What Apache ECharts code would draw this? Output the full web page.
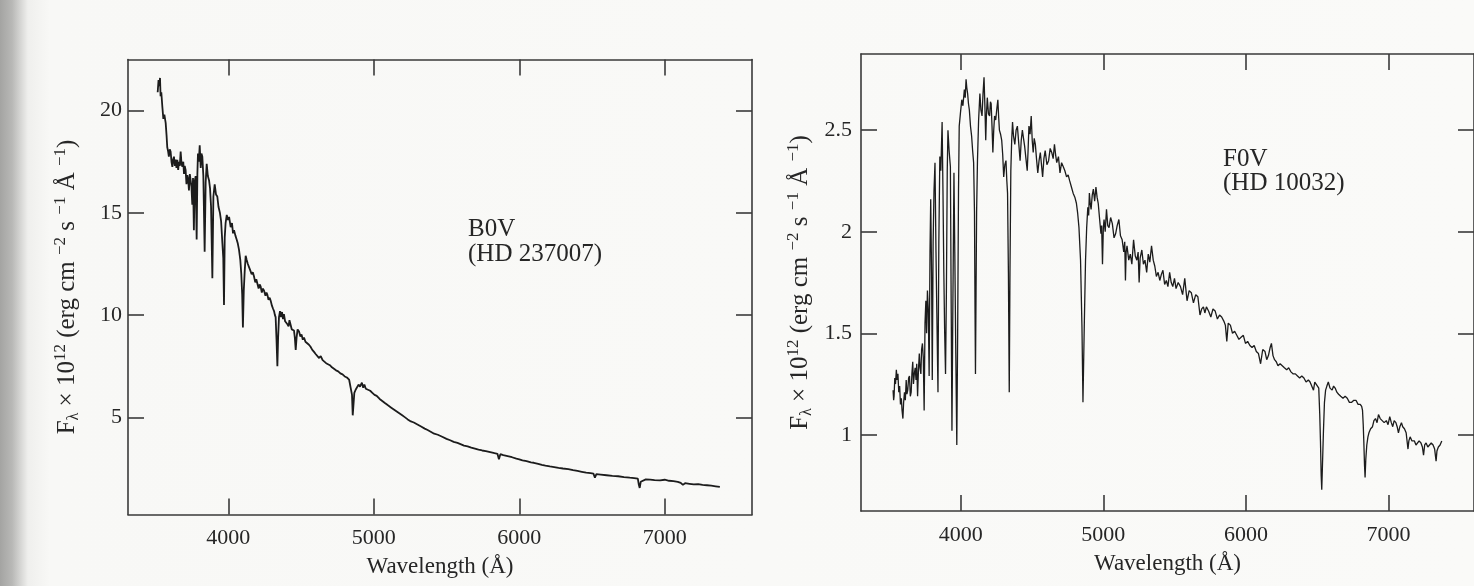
<!DOCTYPE html>
<html>
<head>
<meta charset="utf-8">
<script src="https://cdn.jsdelivr.net/npm/echarts@6/dist/echarts.min.js"></script>
<style>
html,body{margin:0;padding:0;}
body{width:1474px;height:586px;overflow:hidden;
background:linear-gradient(to right,#a4a4a2 0px,#b8b8b6 12px,#d4d4d2 20px,#efefed 28px,#f8f8f6 50px,#fafaf8 100%);}
#chart{width:1474px;height:586px;}
</style>
</head>
<body>
<div id="chart"></div>
<script>
// ---------- data ----------
const xTicks = [4000, 5000, 6000, 7000];
const b0vTicks = [5, 10, 15, 20];
const f0vTicks = [1, 1.5, 2, 2.5];

const b0vWave = [3514,3520,3526,3530,3534,3539,3546,3553,3560,3569,3575,3580,3586,3591,3597,3603,3609,3615,3620,3626,3632,3638,3643,3649,3655,3660,3666,3672,3678,3684,3690,3695,3700,3706,3712,3718,3724,3729,3735,3741,3746,3752,3757,3763,3768,3775,3782,3787,3791,3797,3803,3810,3815,3821,3828,3837,3844,3851,3859,3867,3874,3881,3890,3897,3906,3915,3924,3932,3942,3950,3959,3965,3970,3975,3981,3989,3997,4005,4016,4025,4032,4039,4048,4057,4065,4073,4082,4089,4095,4100,4106,4112,4119,4126,4134,4142,4150,4160,4168,4176,4185,4192,4199,4208,4215,4222,4230,4238,4245,4255,4262,4268,4276,4284,4291,4300,4308,4314,4320,4325,4331,4337,4342,4348,4355,4362,4369,4376,4382,4390,4398,4406,4414,4420,4428,4436,4443,4451,4457,4463,4469,4476,4486,4495,4503,4512,4520,4530,4540,4554,4565,4577,4589,4600,4612,4624,4635,4648,4660,4672,4685,4698,4712,4725,4740,4755,4770,4785,4800,4815,4830,4843,4850,4855,4860,4866,4875,4886,4895,4905,4918,4927,4935,4945,4960,4975,4990,5005,5020,5040,5058,5076,5095,5115,5135,5155,5175,5195,5215,5233,5255,5275,5300,5325,5350,5370,5391,5415,5440,5470,5500,5525,5549,5575,5600,5620,5645,5670,5695,5720,5745,5770,5800,5830,5850,5860,5870,5890,5920,5950,5980,6000,6022,6050,6080,6100,6130,6155,6180,6210,6240,6270,6300,6337,6370,6400,6430,6460,6490,6510,6520,6530,6560,6600,6640,6680,6720,6760,6790,6815,6822,6828,6835,6845,6870,6900,6930,6968,7000,7030,7060,7090,7110,7125,7140,7170,7200,7230,7260,7290,7320,7350,7379];
const b0vFlux = [20.9,21.5,21.2,21.6,20.7,20.9,20.2,19.6,19.8,19.4,18.8,18.2,18.0,17.75,18.1,18.0,17.5,17.25,17.6,17.75,17.3,17.6,17.2,17.6,17.1,17.5,17.3,18.0,17.4,17.25,17.5,16.9,17.3,17.1,16.4,16.85,16.6,16.1,16.9,16.9,16.3,15.4,16.7,14.15,16.5,16.8,13.7,16.9,17.9,17.5,18.3,17.2,17.9,17.75,16.8,13.1,16.5,17.4,16.8,16.6,16.2,15.3,11.8,15.8,16.4,15.9,15.8,15.3,15.0,14.6,13.5,12.8,10.5,13.8,14.5,14.9,14.65,14.8,14.3,14.5,14.0,14.15,13.9,13.7,13.5,13.2,12.7,12.0,11.0,9.4,11.2,12.1,12.9,12.7,12.5,12.35,12.2,12.0,12.1,11.9,11.6,11.75,11.7,11.3,11.5,11.4,11.1,11.3,11.2,10.95,11.1,11.0,10.75,10.85,10.7,10.45,10.3,10.2,10.0,9.9,8.8,7.5,8.9,9.9,10.2,9.9,10.15,9.8,10.05,9.7,9.65,9.55,9.45,9.75,9.7,9.3,9.35,9.25,8.9,8.3,8.9,9.3,9.2,8.95,9.05,8.8,8.9,8.7,8.75,8.55,8.45,8.3,8.2,8.1,8.05,7.9,8.0,7.8,7.85,7.65,7.6,7.55,7.45,7.4,7.3,7.25,7.15,7.1,7.0,6.95,6.85,6.8,6.1,5.1,5.6,6.2,6.35,6.4,6.6,6.5,6.7,6.45,6.6,6.4,6.35,6.3,6.2,6.1,6.05,5.9,5.8,5.7,5.6,5.5,5.4,5.3,5.2,5.1,5.0,4.9,4.8,4.75,4.65,4.55,4.45,4.38,4.3,4.2,4.15,4.05,3.95,3.88,3.8,3.75,3.68,3.62,3.58,3.52,3.47,3.42,3.38,3.35,3.3,3.25,3.22,2.95,3.2,3.15,3.1,3.05,2.98,2.95,2.9,2.86,2.8,2.78,2.73,2.68,2.64,2.6,2.57,2.53,2.5,2.47,2.42,2.38,2.34,2.3,2.27,2.25,2.05,2.22,2.2,2.17,2.14,2.12,2.08,2.05,2.03,2.0,1.7,1.55,1.85,1.92,1.97,1.96,1.93,1.92,1.95,1.9,1.88,1.85,1.8,1.7,1.78,1.75,1.72,1.74,1.7,1.68,1.66,1.63,1.6];

const f0vWave = [3525,3529,3532,3537,3542,3548,3553,3559,3565,3571,3577,3583,3588,3594,3599,3605,3611,3617,3622,3628,3634,3640,3646,3652,3657,3663,3668,3674,3680,3686,3691,3697,3703,3709,3714,3720,3725,3731,3737,3743,3749,3755,3760,3766,3772,3778,3784,3789,3795,3800,3806,3812,3819,3826,3832,3840,3846,3853,3860,3869,3875,3881,3887,3893,3899,3905,3910,3918,3927,3933,3938,3944,3952,3958,3965,3972,3978,3984,3989,3997,4007,4015,4025,4031,4037,4042,4048,4054,4060,4068,4076,4083,4090,4096,4100,4103,4107,4111,4117,4125,4134,4141,4149,4156,4163,4169,4175,4180,4186,4194,4202,4208,4213,4219,4225,4231,4237,4245,4252,4260,4266,4271,4279,4287,4294,4301,4309,4317,4323,4328,4334,4340,4345,4351,4357,4363,4370,4379,4388,4397,4406,4416,4424,4432,4440,4448,4457,4466,4472,4478,4486,4494,4501,4508,4515,4523,4531,4540,4549,4558,4566,4574,4583,4592,4604,4616,4627,4638,4648,4657,4665,4673,4685,4696,4707,4719,4730,4742,4753,4764,4776,4788,4800,4811,4820,4829,4840,4850,4857,4866,4875,4883,4891,4897,4902,4908,4914,4922,4930,4939,4948,4956,4964,4974,4983,4988,4994,5000,5005,5013,5022,5031,5040,5051,5063,5075,5086,5097,5109,5120,5132,5143,5150,5155,5160,5166,5178,5189,5200,5212,5224,5235,5244,5251,5258,5270,5281,5292,5304,5315,5326,5338,5350,5361,5372,5384,5396,5407,5418,5430,5442,5453,5465,5476,5487,5499,5510,5525,5541,5556,5571,5587,5602,5617,5632,5648,5663,5678,5690,5702,5712,5723,5738,5754,5769,5784,5800,5815,5830,5845,5856,5866,5876,5891,5906,5921,5936,5951,5966,5982,5997,6012,6028,6043,6058,6073,6088,6103,6118,6134,6146,6158,6170,6179,6190,6201,6213,6225,6240,6255,6270,6286,6300,6316,6332,6347,6362,6377,6392,6407,6422,6438,6450,6462,6474,6483,6492,6502,6511,6518,6523,6528,6532,6537,6544,6551,6559,6568,6578,6590,6605,6615,6626,6638,6650,6665,6681,6696,6711,6726,6742,6757,6772,6787,6802,6812,6818,6823,6827,6832,6836,6841,6848,6856,6863,6875,6888,6898,6909,6920,6930,6942,6954,6970,6985,6997,7009,7020,7030,7040,7052,7061,7070,7080,7091,7100,7112,7124,7132,7137,7143,7152,7165,7182,7193,7204,7215,7228,7238,7246,7254,7264,7276,7289,7300,7313,7324,7334,7340,7350,7362,7374];
const f0vFlux = [1.22,1.17,1.19,1.28,1.25,1.32,1.27,1.30,1.21,1.24,1.15,1.18,1.12,1.08,1.16,1.21,1.17,1.27,1.20,1.22,1.28,1.29,1.19,1.21,1.30,1.36,1.25,1.30,1.33,1.27,1.35,1.19,1.32,1.40,1.33,1.30,1.42,1.45,1.38,1.12,1.55,1.66,1.50,1.71,1.62,1.29,1.90,2.16,1.80,1.27,1.95,2.20,2.34,1.90,1.60,1.21,1.95,2.37,2.30,2.54,2.20,1.80,1.50,1.30,1.70,2.30,2.50,2.40,2.32,1.60,1.02,1.60,2.29,1.90,1.40,0.95,1.50,2.20,2.52,2.58,2.65,2.62,2.70,2.66,2.75,2.71,2.68,2.63,2.60,2.52,2.47,2.40,2.34,2.10,1.60,1.30,1.70,2.10,2.35,2.55,2.68,2.60,2.57,2.68,2.76,2.62,2.45,2.58,2.66,2.58,2.57,2.64,2.63,2.52,2.39,2.50,2.57,2.55,2.60,2.65,2.56,2.50,2.48,2.45,2.38,2.27,2.33,2.35,2.25,2.19,1.80,1.21,1.80,2.30,2.45,2.54,2.47,2.43,2.50,2.52,2.44,2.35,2.45,2.50,2.46,2.42,2.36,2.30,2.40,2.52,2.48,2.57,2.45,2.39,2.46,2.43,2.36,2.29,2.35,2.39,2.33,2.27,2.36,2.40,2.33,2.35,2.41,2.39,2.36,2.43,2.38,2.34,2.37,2.29,2.34,2.32,2.30,2.27,2.28,2.25,2.22,2.19,2.17,2.14,2.09,2.02,1.86,1.53,1.16,1.53,1.86,2.02,2.12,2.08,2.19,2.14,2.11,2.18,2.21,2.15,2.22,2.17,2.14,2.06,1.99,2.03,1.84,2.02,2.06,2.00,2.11,2.03,2.02,2.07,2.04,1.97,1.99,2.03,2.06,1.98,1.96,1.90,1.95,1.76,1.90,1.93,1.86,1.89,1.84,1.96,1.88,1.86,1.90,1.75,1.87,1.91,1.84,1.86,1.80,1.89,1.85,1.93,1.86,1.83,1.78,1.80,1.76,1.79,1.81,1.74,1.76,1.73,1.80,1.75,1.73,1.77,1.72,1.75,1.73,1.69,1.77,1.66,1.71,1.70,1.65,1.69,1.68,1.59,1.62,1.63,1.60,1.63,1.61,1.58,1.62,1.61,1.57,1.59,1.58,1.56,1.54,1.46,1.55,1.54,1.50,1.51,1.49,1.47,1.48,1.49,1.45,1.46,1.44,1.43,1.44,1.41,1.40,1.35,1.42,1.41,1.37,1.39,1.43,1.45,1.39,1.37,1.36,1.34,1.35,1.34,1.33,1.32,1.33,1.31,1.30,1.30,1.29,1.28,1.29,1.28,1.26,1.27,1.26,1.26,1.22,1.26,1.26,1.24,1.23,1.10,0.97,0.80,0.73,0.85,1.02,1.16,1.22,1.24,1.26,1.23,1.22,1.24,1.23,1.21,1.20,1.19,1.18,1.19,1.18,1.16,1.16,1.17,1.17,1.15,1.15,1.14,1.12,1.05,0.97,0.85,0.79,0.88,0.95,0.99,1.01,1.03,1.04,1.07,1.08,1.06,1.10,1.08,1.08,1.06,1.07,1.05,1.09,1.06,1.04,1.07,1.06,1.04,1.01,1.04,1.06,1.04,1.03,1.01,0.96,0.93,0.97,0.99,0.97,0.97,0.95,0.95,0.97,0.96,0.94,0.90,0.95,0.96,0.94,0.94,0.96,0.95,0.93,0.87,0.92,0.94,0.95,0.97];

// ---------- styling ----------
const SERIF = '"Liberation Serif","DejaVu Serif",serif';
const INK = '#262626';
const FRAME = '#3a3a3a';

function pairs(w, f) { return w.map((x, i) => [x, f[i]]); }

function axis(gridIndex, position, min, max, ticks, showLabels, margin, extra) {
  return Object.assign({
    type: 'value', gridIndex, position, min, max,
    axisLine: { show: true, onZero: false, lineStyle: { color: FRAME, width: 1.6 } },
    axisTick: { show: true, inside: true, length: 16, customValues: ticks, lineStyle: { color: FRAME, width: 1.6 } },
    axisLabel: { show: showLabels, customValues: ticks, color: INK, fontFamily: SERIF, fontSize: 22, margin: margin,
                 formatter: v => String(v) },
    splitLine: { show: false }
  }, extra || {});
}

const yName = '{t|F}{sub|λ}{t| × 10}{sup|12}{t| (erg cm }{sup|−2}{t| s }{sup|−1}{t| Å }{sup|−1}{t|)}';
const yNameStyle = {
  color: INK, fontFamily: SERIF, fontSize: 25,
  rich: {
    t: { fontFamily: SERIF, fontSize: 25, lineHeight: 30, color: INK },
    sup: { fontFamily: SERIF, fontSize: 17, lineHeight: 17, verticalAlign: 'top', color: INK },
    sub: { fontFamily: SERIF, fontSize: 16, lineHeight: 20, verticalAlign: 'bottom', color: INK }
  }
};
const xNameStyle = { color: INK, fontFamily: SERIF, fontSize: 23 };

const chart = echarts.init(document.getElementById('chart'), null, { renderer: 'canvas' });
chart.setOption({
  animation: false,
  backgroundColor: 'transparent',
  grid: [
    { left: 128, top: 59.5, width: 624, height: 455, containLabel: false },
    { left: 861, top: 54, width: 624, height: 457, containLabel: false }
  ],
  xAxis: [
    axis(0, 'bottom', 3310, 7600, xTicks, true, 13, { name: 'Wavelength (Å)', nameLocation: 'middle', nameGap: 41, nameTextStyle: xNameStyle }),
    axis(0, 'top', 3310, 7600, xTicks, false, 8),
    axis(1, 'bottom', 3300, 7600, xTicks, true, 13, { name: 'Wavelength (Å)', nameLocation: 'middle', nameGap: 41, nameTextStyle: xNameStyle }),
    axis(1, 'top', 3300, 7600, xTicks, false, 8)
  ],
  yAxis: [
    axis(0, 'left', 0.25, 22.5, b0vTicks, true, 6, { name: yName, nameLocation: 'middle', nameGap: 46, nameRotate: 90, nameTextStyle: yNameStyle }),
    axis(0, 'right', 0.25, 22.5, b0vTicks, false, 8),
    axis(1, 'left', 0.625, 2.875, f0vTicks, true, 9, { name: yName, nameLocation: 'middle', nameGap: 46, nameRotate: 90, nameTextStyle: yNameStyle }),
    axis(1, 'right', 0.625, 2.875, f0vTicks, false, 8)
  ],
  series: [
    { type: 'line', name: 'B0V', xAxisIndex: 0, yAxisIndex: 0, data: pairs(b0vWave, b0vFlux),
      showSymbol: false, symbol: 'none', lineStyle: { color: '#1c1c1c', width: 1.8 } },
    { type: 'line', name: 'F0V', xAxisIndex: 2, yAxisIndex: 2, data: pairs(f0vWave, f0vFlux),
      showSymbol: false, symbol: 'none', lineStyle: { color: '#1c1c1c', width: 1.3 } }
  ],
  graphic: [
    { type: 'text', left: 468, top: 217, style: { text: 'B0V\n(HD 237007)', font: '25px ' + SERIF, fill: INK, lineHeight: 25 } },
    { type: 'text', left: 1223, top: 147, style: { text: 'F0V\n(HD 10032)', font: '25px ' + SERIF, fill: INK, lineHeight: 24 } }
  ]
});
</script>
</body>
</html>
